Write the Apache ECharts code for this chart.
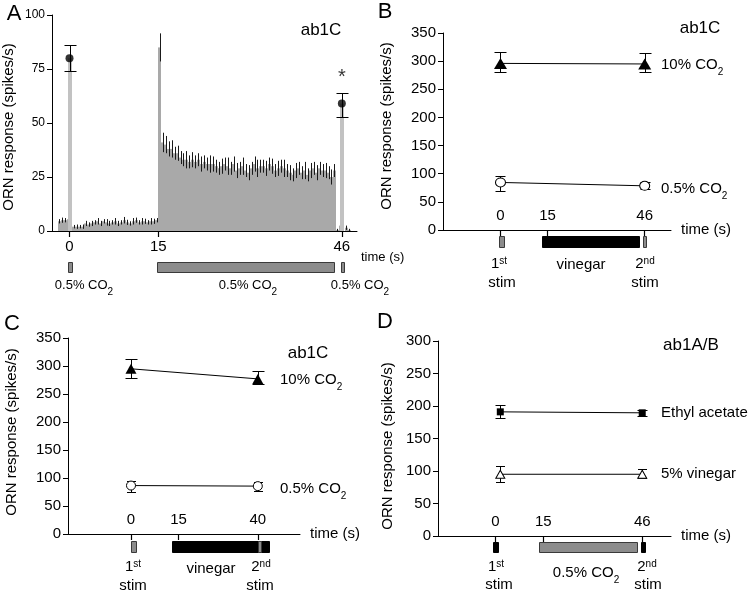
<!DOCTYPE html>
<html><head><meta charset="utf-8">
<script src="https://cdn.jsdelivr.net/npm/echarts@6/dist/echarts.min.js"></script>
<style>html,body{margin:0;padding:0;background:#fff}#c{width:752px;height:596px}</style>
</head><body><div id="c"></div>
<script>
// ---------------- Panel A: PSTH of ab1C (bins of 0.5 s, starting at -2 s) ----------------
const histStartA = -2;
const histBinA = 0.5;
const histValuesA = [
  4.5, 5, 5, 5.5,
  0,
  2, 2, 2, 2, 3.5, 3, 3.5, 4, 4.5, 3.5, 4.5, 4, 3.5, 4, 4.5, 3.5, 4, 5, 4, 3.5, 4.5, 5, 4, 4.5, 4.5, 4, 4.5, 4.5, 5,
  85,
  41, 40, 38, 38, 36, 36, 34, 33, 33, 32, 33, 32, 33, 31, 32, 31, 31, 31, 30, 29,
  30, 31, 30, 29, 31, 28, 29, 30, 28, 27, 29, 31, 29, 30, 30, 29, 31, 30, 28, 29,
  30, 29, 28, 27, 26, 28, 29, 27, 28, 26, 28, 29, 27, 29, 28, 28, 27, 25, 28,
  0.5, 2.5, 0, 1.5, 0.5
];
const histErrA = [
  1, 1.2, 1, 1.2,
  0,
  0.8, 1, 0.8, 1, 1.2, 1, 1.2, 1, 1.5, 1.2, 1, 1.5, 1.2, 1, 1.5, 1.2, 1, 1.5, 1.2, 1, 1.5, 1.2, 1, 1.5, 1.2, 1, 1.5, 1.2, 1,
  6.5,
  4.5, 4, 3.5, 4, 3, 3.5, 3, 3, 4, 3, 3.5, 3, 3, 3.5, 3, 3, 4, 3.5, 3, 3,
  3.5, 3, 4, 3, 3.5, 3.5, 3, 4, 3, 3.5, 3, 3.5, 4, 3, 3, 3.5, 3, 3.5, 3, 3.5,
  3, 4, 3, 3.5, 3, 3.5, 3, 3, 4, 3, 3.5, 3, 3.5, 3, 3, 3.5, 3, 3.5, 3,
  0.5, 1, 0, 1, 0.5
];
const stimTimesA = [0, 46];
const stimRespA = [80, 59];
const stimErrA = [[74, 86], [53, 64]];
const ticksA = [0, 15, 46];
const stimBarsA = [[-0.2, 0.55, 0], [14.8, 44.7, 0], [45.85, 46.4, 0]];

// ---------------- Panel B ----------------
const timeB = [0, 46];
const co2HighB = [296, 295];
const co2HighErrB = [[281, 315.5], [281, 314]];
const co2LowB = [84.5, 78.5];
const co2LowErrB = [[70, 96], [72, 86]];
const ticksB = [0, 15, 46];
const stimBarsB = [[-0.5, 1.1, 0], [13.2, 44.2, 1], [45.45, 46.4, 0]];

// ---------------- Panel C ----------------
const timeC = [0, 40];
const co2HighC = [295, 277];
const co2HighErrC = [[278.5, 312], [267, 290.5]];
const co2LowC = [86.5, 85.5];
const co2LowErrC = [[75, 95], [76.5, 93]];
const ticksC = [0, 15, 40];
const stimBarsC = [[0, 1.6, 0], [12.9, 43.5, 1], [40.05, 41.0, 0]];

// ---------------- Panel D ----------------
const timeD = [1.5, 46];
const ethylD = [191, 189.5];
const ethylErrD = [[181, 202], [184.5, 194.5]];
const vinegarD = [95, 95];
const vinegarErrD = [[82.5, 108], [89.5, 102.5]];
const ticksD = [0, 15, 46];
const stimBarsD = [[-0.8, 0.7, 1], [13.7, 44.35, 0], [45.6, 46.75, 1]];

// ---------------- helpers ----------------
const FONT = '"Liberation Sans", Arial, Helvetica, sans-serif';
const pair = (xs, ys) => xs.map((x, i) => [x, ys[i]]);
const errData = (xs, lh) => xs.map((x, i) => [x, lh[i][0], lh[i][1]]);

function errRender(capW) {
  return function (params, api) {
    const x = api.value(0);
    const p1 = api.coord([x, api.value(1)]), p2 = api.coord([x, api.value(2)]);
    const cx = Math.round(p1[0]) + 0.5, y1 = Math.round(p1[1]) + 0.5, y2 = Math.round(p2[1]) + 0.5;
    const h = capW / 2;
    const st = { stroke: '#000', lineWidth: 1 };
    return { type: 'group', children: [
      { type: 'line', shape: { x1: cx, y1: y1, x2: cx, y2: y2 }, style: st },
      { type: 'line', shape: { x1: cx - h, y1: y1, x2: cx + h, y2: y1 }, style: st },
      { type: 'line', shape: { x1: cx - h, y1: y2, x2: cx + h, y2: y2 }, style: st }
    ]};
  };
}
// histogram bin: value(0)=bin start, value(1)=bin end, value(2)=rate
function histRender(params, api) {
  const a = api.coord([api.value(0), api.value(2)]), b = api.coord([api.value(1), 0]);
  const x0 = Math.round(a[0]), x1 = Math.round(b[0]);
  return { type: 'rect', shape: { x: x0, y: a[1], width: x1 - x0, height: b[1] - a[1] }, style: { fill: '#a9a9a9' } };
}
function histErrRender(params, api) {
  const x = (api.value(0) + api.value(1)) / 2, v = api.value(2), e = api.value(3);
  if (!e) return null;
  const p1 = api.coord([x, v - e]), p2 = api.coord([x, v + e]);
  const cx = Math.round(p1[0]) + 0.5;
  return { type: 'line', shape: { x1: cx, y1: p1[1], x2: cx, y2: p2[1] }, style: { stroke: '#1a1a1a', lineWidth: 1 } };
}
function stimBarRender(params, api) {
  const p = api.coord([api.value(0), api.value(1)]), b = api.coord([api.value(0), 0]);
  return { type: 'rect', shape: { x: Math.round(p[0]) - 2, y: p[1], width: 4, height: b[1] - p[1] }, style: { fill: '#c2c2c2' } };
}
function stimRender(offTop, h) {
  return function (params, api) {
    const a = api.coord([api.value(0), 0]), b = api.coord([api.value(1), 0]);
    const black = api.value(2) === 1;
    return { type: 'rect',
      shape: { x: Math.round(a[0]) + 0.5, y: Math.round(a[1] + offTop) + 0.5, width: Math.max(2, Math.round(b[0] - a[0])), height: h },
      style: { fill: black ? '#000' : '#8c8c8c', stroke: black ? '#000' : '#3a3a3a', lineWidth: 1 } };
  };
}

const RICH = {
  sub: { fontSize: 10, fontFamily: FONT, fill: '#000', verticalAlign: 'bottom', padding: [14, 0, 0, 0] },
  sup: { fontSize: 10, fontFamily: FONT, fill: '#000', verticalAlign: 'top', padding: [0, 0, 4, 0] }
};
function T(x, y, text, o) {
  o = o || {};
  return { type: 'text', x: x, y: y, rotation: o.rot || 0, silent: true, z: 100,
    style: { text: text, fontSize: o.size || 15, fontFamily: FONT, fill: '#000',
      align: o.align || 'center', verticalAlign: 'middle', rich: RICH } };
}

function xAxisCfg(gi, min, max, ticks, inside, name) {
  return {
    gridIndex: gi, type: 'value', min: min, max: max,
    name: name || '', nameLocation: 'end', nameGap: 10,
    nameTextStyle: { fontSize: 15, fontFamily: FONT, color: '#000', verticalAlign: 'middle' },
    axisLine: { show: true, onZero: false, lineStyle: { color: '#000', width: 1 } },
    axisTick: { show: true, customValues: ticks, length: 6, lineStyle: { color: '#000', width: 1.2 } },
    axisLabel: { show: true, customValues: ticks, inside: !!inside, margin: inside ? 7 : 8,
      fontSize: 15, fontFamily: FONT, color: '#000' },
    splitLine: { show: false }
  };
}
function yAxisCfg(gi, max, interval, fs) {
  return {
    gridIndex: gi, type: 'value', min: 0, max: max, interval: interval,
    axisLine: { show: true, onZero: false, lineStyle: { color: '#000', width: 1 } },
    axisTick: { show: true, length: 5, lineStyle: { color: '#000' } },
    axisLabel: { fontSize: fs, fontFamily: FONT, color: '#000', margin: 7 },
    splitLine: { show: false }
  };
}

const histData = histValuesA.map((v, i) => [histStartA + i * histBinA, histStartA + (i + 1) * histBinA, v, histErrA[i]]);

const chart = echarts.init(document.getElementById('c'), null, { renderer: 'canvas' });
const option = {
  animation: false,
  backgroundColor: '#fff',
  textStyle: { fontFamily: FONT },
  grid: [
    { left: 52, top: 15, width: 305, height: 216 },
    { left: 443, top: 33, width: 228, height: 197 },
    { left: 68, top: 338, width: 232, height: 196 },
    { left: 438, top: 341, width: 233, height: 195 }
  ],
  xAxis: [
    xAxisCfg(0, -2.956, 48.56, ticksA, false, ''),
    xAxisCfg(1, -18.34, 54.39, ticksB, true, 'time (s)'),
    xAxisCfg(2, -19.87, 53.31, ticksC, true, 'time (s)'),
    xAxisCfg(3, -18.03, 55.02, ticksD, true, 'time (s)')
  ],
  yAxis: [
    yAxisCfg(0, 100, 25, 12),
    yAxisCfg(1, 350, 50, 15),
    yAxisCfg(2, 350, 50, 15),
    yAxisCfg(3, 300, 50, 15)
  ],
  series: [
    // ---- A ----
    { type: 'custom', xAxisIndex: 0, yAxisIndex: 0, data: histData, renderItem: histRender, silent: true, z: 2,
      encode: { x: [0, 1], y: 2 } },
    { type: 'custom', xAxisIndex: 0, yAxisIndex: 0, data: histData, renderItem: histErrRender, silent: true, z: 3,
      encode: { x: [0, 1], y: 2 } },
    { type: 'custom', xAxisIndex: 0, yAxisIndex: 0, data: pair(stimTimesA, stimRespA), renderItem: stimBarRender, silent: true, z: 3 },
    { type: 'custom', xAxisIndex: 0, yAxisIndex: 0, data: errData(stimTimesA, stimErrA), renderItem: errRender(12), silent: true, z: 4 },
    { type: 'scatter', xAxisIndex: 0, yAxisIndex: 0, symbol: 'circle', symbolSize: 8,
      itemStyle: { color: '#000' }, z: 5, silent: true,
      data: [ { value: [stimTimesA[0], stimRespA[0]] },
              { value: [stimTimesA[1], stimRespA[1]],
                label: { show: true, formatter: '*', position: 'top', distance: 12, fontSize: 20, color: '#000', fontFamily: FONT } } ] },
    { type: 'custom', xAxisIndex: 0, yAxisIndex: 0, data: stimBarsA, renderItem: stimRender(31, 10), clip: false, silent: true },

    // ---- B ----
    { type: 'custom', xAxisIndex: 1, yAxisIndex: 1, data: errData(timeB, co2HighErrB), renderItem: errRender(12), silent: true, z: 2 },
    { type: 'custom', xAxisIndex: 1, yAxisIndex: 1, data: errData(timeB, co2LowErrB), renderItem: errRender(10), silent: true, z: 2 },
    { type: 'line', xAxisIndex: 1, yAxisIndex: 1, data: pair(timeB, co2HighB), symbol: 'triangle', symbolSize: [13, 11],
      itemStyle: { color: '#000' }, lineStyle: { color: '#000', width: 1 }, z: 4, silent: true },
    { type: 'line', xAxisIndex: 1, yAxisIndex: 1, data: pair(timeB, co2LowB), symbol: 'circle', symbolSize: [10, 9],
      itemStyle: { color: '#fff', borderColor: '#000', borderWidth: 1 }, lineStyle: { color: '#000', width: 1 }, z: 4, silent: true },
    { type: 'custom', xAxisIndex: 1, yAxisIndex: 1, data: stimBarsB, renderItem: stimRender(6, 11), clip: false, silent: true },

    // ---- C ----
    { type: 'custom', xAxisIndex: 2, yAxisIndex: 2, data: errData(timeC, co2HighErrC), renderItem: errRender(12), silent: true, z: 2 },
    { type: 'custom', xAxisIndex: 2, yAxisIndex: 2, data: errData(timeC, co2LowErrC), renderItem: errRender(9), silent: true, z: 2 },
    { type: 'line', xAxisIndex: 2, yAxisIndex: 2, data: pair(timeC, co2HighC), symbol: 'triangle', symbolSize: [11, 10],
      itemStyle: { color: '#000' }, lineStyle: { color: '#000', width: 1 }, z: 4, silent: true },
    { type: 'line', xAxisIndex: 2, yAxisIndex: 2, data: pair(timeC, co2LowC), symbol: 'circle', symbolSize: [9, 9],
      itemStyle: { color: '#fff', borderColor: '#000', borderWidth: 1 }, lineStyle: { color: '#000', width: 1 }, z: 4, silent: true },
    { type: 'custom', xAxisIndex: 2, yAxisIndex: 2, data: stimBarsC, renderItem: stimRender(7, 11), clip: false, silent: true },

    // ---- D ----
    { type: 'custom', xAxisIndex: 3, yAxisIndex: 3, data: errData(timeD, ethylErrD), renderItem: errRender(10), silent: true, z: 2 },
    { type: 'custom', xAxisIndex: 3, yAxisIndex: 3, data: errData(timeD, vinegarErrD), renderItem: errRender(9), silent: true, z: 2 },
    { type: 'line', xAxisIndex: 3, yAxisIndex: 3, data: pair(timeD, ethylD), symbol: 'rect', symbolSize: 7,
      itemStyle: { color: '#000' }, lineStyle: { color: '#000', width: 1 }, z: 4, silent: true },
    { type: 'line', xAxisIndex: 3, yAxisIndex: 3, data: pair(timeD, vinegarD), symbol: 'triangle', symbolSize: [9, 8],
      itemStyle: { color: '#fff', borderColor: '#000', borderWidth: 1 }, lineStyle: { color: '#000', width: 1 }, z: 4, silent: true },
    { type: 'custom', xAxisIndex: 3, yAxisIndex: 3, data: stimBarsD, renderItem: stimRender(6, 10), clip: false, silent: true }
  ],
  graphic: [
    // panel letters
    T(14, 14, 'A', { size: 22 }), T(385, 12, 'B', { size: 22 }), T(12, 324, 'C', { size: 22 }), T(385, 322, 'D', { size: 22 }),
    // neuron labels
    T(321, 30, 'ab1C', { size: 17 }), T(700, 28, 'ab1C', { size: 17 }), T(308, 353, 'ab1C', { size: 17 }), T(691, 345, 'ab1A/B', { size: 17 }),
    // y axis titles
    T(9, 127, 'ORN response (spikes/s)', { rot: Math.PI / 2, size: 15 }),
    T(387, 126, 'ORN response (spikes/s)', { rot: Math.PI / 2, size: 15 }),
    T(12, 432, 'ORN response (spikes/s)', { rot: Math.PI / 2, size: 15 }),
    T(388, 446, 'ORN response (spikes/s)', { rot: Math.PI / 2, size: 15 }),
    // panel A
    T(361, 257, 'time (s)', { size: 13, align: 'left' }),
    T(84, 285, '0.5% CO{sub|2}', { size: 13 }), T(248, 285, '0.5% CO{sub|2}', { size: 13 }), T(360, 285, '0.5% CO{sub|2}', { size: 13 }),
    // panel B
    T(661, 65, '10% CO{sub|2}', { align: 'left' }), T(661, 189, '0.5% CO{sub|2}', { align: 'left' }),
    T(499, 264, '1{sup|st}'), T(502, 283, 'stim'), T(581, 265, 'vinegar'), T(645, 264, '2{sup|nd}'), T(645, 283, 'stim'),
    // panel C
    T(280, 380, '10% CO{sub|2}', { align: 'left' }), T(280, 489, '0.5% CO{sub|2}', { align: 'left' }),
    T(133, 567, '1{sup|st}'), T(133, 586, 'stim'), T(211, 569, 'vinegar'), T(261, 567, '2{sup|nd}'), T(260, 586, 'stim'),
    // panel D
    T(661, 413, 'Ethyl acetate', { align: 'left' }), T(661, 474, '5% vinegar', { align: 'left' }),
    T(496, 567, '1{sup|st}'), T(499, 585, 'stim'), T(586, 573, '0.5% CO{sub|2}'), T(647, 567, '2{sup|nd}'), T(648, 585, 'stim')
  ]
};
chart.setOption(option);
</script>
</body></html>
